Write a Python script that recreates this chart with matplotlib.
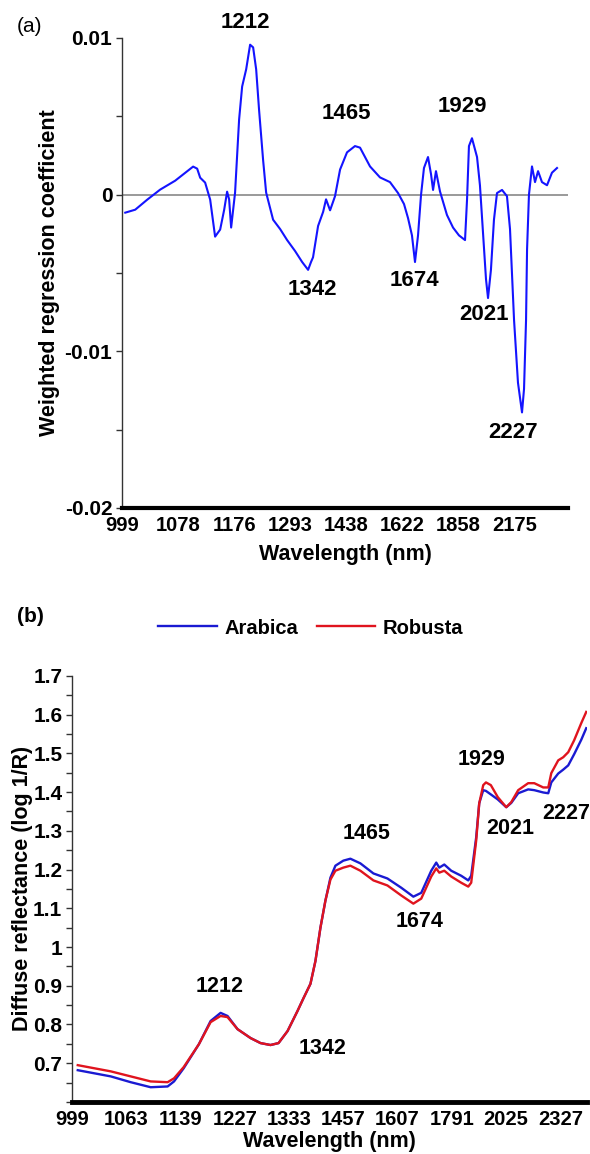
import matplotlib
matplotlib.use("Agg")
import matplotlib.pyplot as plt
from matplotlib.ticker import FixedLocator, MultipleLocator, FuncFormatter

plt.rcParams['font.family'] = ['Liberation Sans', 'DejaVu Sans']
plt.rcParams['font.weight'] = 'bold'
plt.rcParams['axes.labelweight'] = 'bold'
plt.rcParams['axes.unicode_minus'] = False

# ---- (a) weighted regression coefficients (x = spectral channel) ----
coef_ch = [2.9, 11.8, 22.5, 34.0, 47.4, 63.4, 67.0, 69.7, 74.1, 78.6,
           83.0, 87.5, 91.1, 93.7, 95.5, 97.3, 100.8, 104.4, 107.1, 110.7,
           114.2, 116.9, 119.6, 122.2, 125.8, 128.5, 134.7, 141.0, 147.2, 154.3,
           160.6, 165.9, 168.5, 170.3, 174.8, 179.3, 181.9, 185.5, 189.9, 194.4,
           200.6, 207.7, 212.2, 221.1, 230.0, 238.9, 246.1, 251.4, 255.0, 258.5,
           261.2, 263.9, 266.6, 269.2, 272.8, 275.5, 277.3, 279.9, 283.5, 289.7,
           295.1, 300.4, 305.8, 307.6, 309.3, 312.0, 316.5, 319.1, 321.8, 324.5,
           326.3, 328.9, 331.6, 334.3, 338.8, 343.2, 345.9, 349.5, 353.0, 356.6,
           358.4, 360.2, 361.1, 362.8, 365.5, 368.2, 370.9, 374.4, 378.9, 383.3,
           387.8]
coef_val = [-0.00115, -0.00096, -0.00032, 0.00032, 0.00089, 0.00179, 0.00166, 0.00108, 0.00077, -0.00032,
            -0.00268, -0.00223, -0.00096, 0.00019, -0.0003, -0.0021, 0.00013, 0.0048, 0.0069, 0.0080,
            0.00957, 0.0094, 0.0080, 0.0054, 0.0022, 0.00013, -0.0016, -0.0022, -0.0029, -0.0036,
            -0.0043, -0.0048, -0.0043, -0.0040, -0.0020, -0.0011, -0.0003, -0.0010, -0.0001, 0.0016,
            0.0027, 0.0031, 0.0030, 0.0018, 0.0011, 0.0008, 0.0001, -0.0006, -0.0015, -0.0026,
            -0.0043, -0.0026, 0.0000, 0.0017, 0.0024, 0.0013, 0.0003, 0.0015, 0.0002, -0.0013,
            -0.0021, -0.0026, -0.0029, -0.0003, 0.0031, 0.0036, 0.0024, 0.0006, -0.0024, -0.0054,
            -0.0066, -0.0048, -0.0016, 0.0001, 0.0003, -0.0001, -0.0022, -0.0080, -0.0120, -0.0139,
            -0.0124, -0.0080, -0.0035, 0.0000, 0.0018, 0.0008, 0.0015, 0.0008, 0.0006, 0.0014,
            0.0017]
coef_ticks = [999, 1078, 1176, 1293, 1438, 1622, 1858, 2175]

peak_labels_a = ['1212', '1465', '1929', '1342', '1674', '2021', '2227']
peak_ch_a = [109.8, 199.8, 303.1, 169.5, 260.4, 322.7, 348.5]
peak_val_a = [0.0110, 0.00516, 0.0056, -0.00605, -0.00548, -0.00764, -0.01516]

# ---- (b) mean spectra ----
spec_ch = [5.3, 35.7, 54.1, 72.5, 88.1, 94.0, 102.9, 116.9, 127.7, 136.9,
           143.3, 152.5, 164.5, 173.7, 182.9, 190.3, 198.6, 207.8, 213.3, 219.7,
           224.3, 228.9, 233.5, 238.1, 242.7, 250.0, 256.5, 265.7, 277.7, 290.6,
           303.4, 314.5, 321.8, 331.0, 335.6, 338.4, 343.0, 349.4, 358.6, 365.1,
           367.8, 372.4, 375.2, 378.9, 381.4, 385.9, 392.3, 400.1, 404.7, 411.1,
           420.3, 425.9, 434.2, 438.8, 441.6, 448.0, 452.6, 457.2, 462.7, 469.2,
           473.8]
arabica = [0.682, 0.666, 0.651, 0.638, 0.640, 0.653, 0.687, 0.749, 0.809, 0.830,
           0.822, 0.788, 0.765, 0.752, 0.747, 0.752, 0.783, 0.835, 0.868, 0.905,
           0.964, 1.050, 1.120, 1.179, 1.210, 1.223, 1.228, 1.216, 1.190, 1.177,
           1.153, 1.130, 1.140, 1.197, 1.218, 1.205, 1.213, 1.197, 1.184, 1.172,
           1.184, 1.283, 1.371, 1.405, 1.403, 1.394, 1.381, 1.361, 1.372, 1.397,
           1.407, 1.405, 1.399, 1.397, 1.425, 1.448, 1.458, 1.469, 1.498, 1.535,
           1.565]
robusta = [0.695, 0.679, 0.666, 0.653, 0.651, 0.661, 0.690, 0.749, 0.806, 0.822,
           0.819, 0.788, 0.765, 0.752, 0.747, 0.752, 0.783, 0.835, 0.868, 0.905,
           0.964, 1.050, 1.120, 1.174, 1.197, 1.205, 1.210, 1.197, 1.172, 1.159,
           1.133, 1.112, 1.125, 1.182, 1.203, 1.192, 1.197, 1.182, 1.166, 1.156,
           1.166, 1.275, 1.371, 1.418, 1.425, 1.418, 1.387, 1.361, 1.374, 1.405,
           1.423, 1.423, 1.412, 1.412, 1.449, 1.482, 1.490, 1.503, 1.534, 1.578,
           1.607]
spec_ticks = [999, 1063, 1139, 1227, 1333, 1457, 1607, 1791, 2025, 2327]

peak_labels_b = ['1212', '1342', '1465', '1674', '1929', '2021', '2227']
peak_ch_b = [136.0, 230.7, 271.2, 320.0, 377.0, 403.7, 455.2]
peak_val_b = [0.899, 0.739, 1.293, 1.065, 1.485, 1.306, 1.345]

fig = plt.figure(figsize=(5.9, 11.54), dpi=100)


def style_axis(ax, spine_w):
    for s in ['top', 'right']:
        ax.spines[s].set_visible(False)
    ax.spines['left'].set_linewidth(1.0)
    ax.spines['left'].set_color('#333333')
    ax.spines['bottom'].set_linewidth(spine_w)
    ax.tick_params(axis='x', length=0, pad=6, labelsize=14.5)
    ax.tick_params(axis='y', which='both', length=4, width=1, color='#333333',
                   labelsize=15, pad=3)


# ---------- panel (a) ----------
ax1 = fig.add_axes([122 / 590, 0.5598, (568 - 122) / 590, 0.4073])
ax1.axhline(0, color='#9a9a9a', lw=1.4, zorder=1)
ax1.plot(coef_ch, coef_val, color='#1414ff', lw=1.5, zorder=2)
ax1.set_xlim(0, 397.6)
ax1.set_ylim(-0.02, 0.01)
ax1.xaxis.set_major_locator(FixedLocator([50 * i for i in range(len(coef_ticks))]))
ax1.set_xticklabels([str(t) for t in coef_ticks])
ax1.yaxis.set_major_locator(FixedLocator([-0.02, -0.01, 0, 0.01]))
ax1.yaxis.set_minor_locator(FixedLocator([-0.015, -0.005, 0.005]))
ax1.yaxis.set_major_formatter(FuncFormatter(lambda v, p: '%g' % round(v, 4)))
style_axis(ax1, 3.0)
ax1.set_xlabel('Wavelength (nm)', fontsize=15.5, labelpad=6)
ax1.set_ylabel('Weighted regression coefficient', fontsize=15.5, labelpad=3)
for lab, c, v in zip(peak_labels_a, peak_ch_a, peak_val_a):
    ax1.text(c, v, lab, fontsize=16, ha='center', va='center', clip_on=False)
fig.text(17 / 590, 1 - 27 / 1154, '(a)', fontsize=15, fontweight='normal',
         ha='left', va='center')

# ---------- panel (b) ----------
ax2 = fig.add_axes([72 / 590, 0.0451, (587 - 72) / 590, 0.3692])
ax2.plot(spec_ch, arabica, color='#1a1ad2', lw=1.7, label='Arabica')
ax2.plot(spec_ch, robusta, color='#e0141e', lw=1.7, label='Robusta')
ax2.set_xlim(0, 474.5)
ax2.set_ylim(0.6, 1.7)
ax2.xaxis.set_major_locator(FixedLocator([50 * i for i in range(len(spec_ticks))]))
ax2.set_xticklabels([str(t) for t in spec_ticks])
ax2.yaxis.set_major_locator(FixedLocator([0.7 + 0.1 * i for i in range(11)]))
ax2.yaxis.set_minor_locator(MultipleLocator(0.05))
ax2.yaxis.set_major_formatter(FuncFormatter(lambda v, p: '%g' % round(v, 2)))
style_axis(ax2, 3.5)
ax2.set_xlabel('Wavelength (nm)', fontsize=15.5, labelpad=1)
ax2.set_ylabel('Diffuse reflectance (log 1/R)', fontsize=15.5, labelpad=0)
for lab, c, v in zip(peak_labels_b, peak_ch_b, peak_val_b):
    ax2.text(c, v, lab, fontsize=15.5, ha='center', va='center', clip_on=False)
fig.text(17 / 590, 1 - 617 / 1154, '(b)', fontsize=15, fontweight='bold',
         ha='left', va='center')

fig.legend(loc='center', bbox_to_anchor=(0.527, 1 - 628 / 1154), ncol=2,
           frameon=False, fontsize=14.5, handlelength=2.9, handletextpad=0.4,
           columnspacing=0.9, borderpad=0)

fig.savefig('out.png', dpi=100)
